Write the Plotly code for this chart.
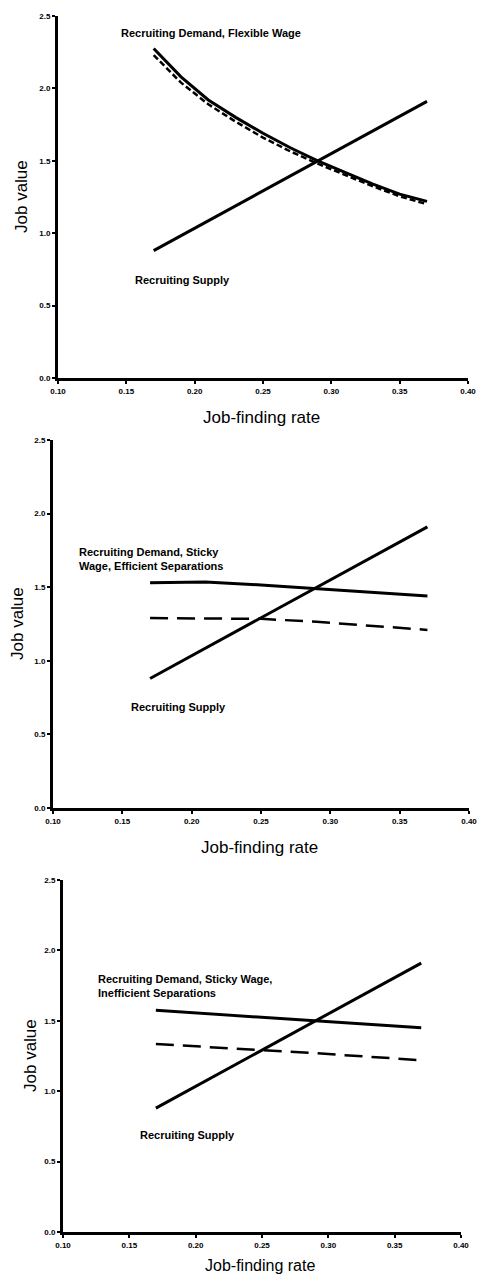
import plotly.graph_objects as go

# ---- data ----
x_rate = [0.17, 0.19, 0.21, 0.23, 0.25, 0.27, 0.29, 0.31, 0.33, 0.35, 0.37]
flex_demand_solid = [2.275, 2.08, 1.92, 1.80, 1.69, 1.59, 1.50, 1.42, 1.34, 1.27, 1.22]
flex_demand_dash = [2.23, 2.04, 1.89, 1.77, 1.66, 1.565, 1.48, 1.40, 1.325, 1.255, 1.20]

x_coarse = [0.17, 0.21, 0.25, 0.29, 0.33, 0.37]
supply = [0.88, 1.085, 1.29, 1.495, 1.70, 1.91]

eff_solid = [1.53, 1.535, 1.515, 1.49, 1.465, 1.44]
eff_dash = [1.29, 1.29, 1.285, 1.265, 1.24, 1.21]

ineff_solid = [1.575, 1.55, 1.525, 1.50, 1.475, 1.45]
ineff_dash = [1.335, 1.315, 1.29, 1.27, 1.245, 1.22]

x_ticks = [0.10, 0.15, 0.20, 0.25, 0.30, 0.35, 0.40]
y_ticks = [0.0, 0.5, 1.0, 1.5, 2.0, 2.5]

W, H = 478, 1276
FONT = "Liberation Sans, Arial, sans-serif"

panels = [
    dict(px=(58, 468), py=(16, 378),
         xs=x_rate, solid=flex_demand_solid, dash=flex_demand_dash, dash_style="6px,3px",
         demand_text="Recruiting Demand, Flexible Wage", demand_pos=(0.1446, 2.38),
         supply_pos=(0.155, 0.68), ytitle_x=21, xtitle_y=417),
    dict(px=(53, 469), py=(440, 808),
         xs=x_coarse, solid=eff_solid, dash=eff_dash, dash_style="18px,9px",
         demand_text="Recruiting Demand, Sticky<br>Wage, Efficient Separations", demand_pos=(0.117, 1.69),
         supply_pos=(0.155, 0.686), ytitle_x=17, xtitle_y=847),
    dict(px=(63, 461), py=(880, 1232),
         xs=x_coarse, solid=ineff_solid, dash=ineff_dash, dash_style="18px,9px",
         demand_text="Recruiting Demand, Sticky Wage,<br>Inefficient Separations", demand_pos=(0.125, 1.75),
         supply_pos=(0.1565, 0.69), ytitle_x=30, xtitle_y=1265),
]

fig = go.Figure()
annotations = []
for i, p in enumerate(panels, start=1):
    xa = "x" if i == 1 else f"x{i}"
    ya = "y" if i == 1 else f"y{i}"
    fig.add_trace(go.Scatter(x=p["xs"], y=p["dash"], mode="lines", xaxis=xa, yaxis=ya,
                             line=dict(color="black", width=2.5, dash=p["dash_style"]),
                             showlegend=False, hoverinfo="skip"))
    fig.add_trace(go.Scatter(x=p["xs"], y=p["solid"], mode="lines", xaxis=xa, yaxis=ya,
                             line=dict(color="black", width=3),
                             showlegend=False, hoverinfo="skip"))
    fig.add_trace(go.Scatter(x=x_coarse, y=supply, mode="lines", xaxis=xa, yaxis=ya,
                             line=dict(color="black", width=3),
                             showlegend=False, hoverinfo="skip"))
    x0, x1 = p["px"]
    y0, y1 = p["py"]
    xdom = [x0 / W, x1 / W]
    ydom = [1 - y1 / H, 1 - y0 / H]
    axis_common = dict(showgrid=False, zeroline=False, showline=True, linecolor="black",
                       linewidth=3, ticks="outside", ticklen=3, tickwidth=1.5, tickcolor="black",
                       automargin=False, ticklabeloverflow="allow",
                       tickfont=dict(family=FONT, size=8, color="black", weight="bold"))
    fig.layout[("xaxis" if i == 1 else f"xaxis{i}")] = dict(
        domain=xdom, range=[0.10, 0.40], tickvals=x_ticks, tickformat=".2f",
        anchor=ya, **axis_common)
    fig.layout[("yaxis" if i == 1 else f"yaxis{i}")] = dict(
        domain=ydom, range=[0, 2.5], tickvals=y_ticks, tickformat=".1f",
        anchor=xa, **axis_common)
    annotations.append(dict(x=p["demand_pos"][0], y=p["demand_pos"][1], xref=xa, yref=ya,
                            text=p["demand_text"], showarrow=False, xanchor="left", yanchor="middle",
                            align="left", font=dict(family=FONT, size=11, color="black", weight="bold")))
    annotations.append(dict(x=p["supply_pos"][0], y=p["supply_pos"][1], xref=xa, yref=ya,
                            text="Recruiting Supply", showarrow=False, xanchor="left", yanchor="middle",
                            font=dict(family=FONT, size=11, color="black", weight="bold")))
    annotations.append(dict(x=p["ytitle_x"] / W, y=1 - ((y0 + y1) / 2) / H, xref="paper", yref="paper",
                            text="Job value", textangle=-90, showarrow=False,
                            xanchor="center", yanchor="middle",
                            font=dict(family=FONT, size=17, color="black")))
    annotations.append(dict(x=((x0 + x1) / 2 - 2) / W, y=1 - p["xtitle_y"] / H, xref="paper", yref="paper",
                            text="Job-finding rate", showarrow=False,
                            xanchor="center", yanchor="middle",
                            font=dict(family=FONT, size=16 if i == 3 else 17, color="black")))

fig.update_layout(template="none", width=W, height=H, margin=dict(l=0, r=0, t=0, b=0),
                  plot_bgcolor="white", paper_bgcolor="white", annotations=annotations,
                  showlegend=False)
fig.write_html("out.html", config={"displayModeBar": False},
               post_script="document.body.style.margin='0';document.body.style.padding='0';"
                           "document.documentElement.style.overflow='hidden';")
